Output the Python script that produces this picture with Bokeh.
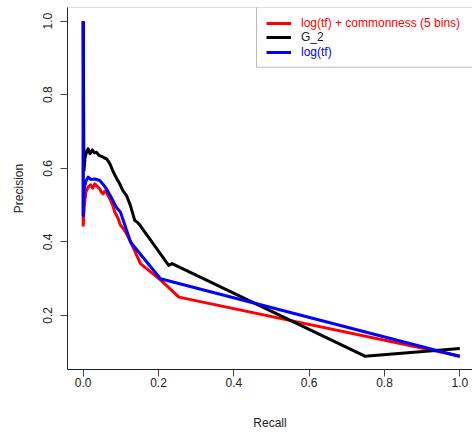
from bokeh.plotting import figure
from bokeh.models import Range1d, Legend, LegendItem, BoxAnnotation, FixedTicker, PrintfTickFormatter
from bokeh.embed import file_html
from bokeh.resources import INLINE

# ---- data ----
red_x = [0.0, 0.0, 0.003, 0.007, 0.013, 0.02, 0.025, 0.031, 0.038, 0.044, 0.048, 0.053, 0.058,
         0.062, 0.067, 0.071, 0.078, 0.084, 0.093, 0.099, 0.107, 0.115, 0.126, 0.152, 0.205, 0.254, 1.0]
red_y = [1.0, 0.445, 0.50, 0.535, 0.549, 0.555, 0.546, 0.558, 0.55, 0.544, 0.535, 0.531, 0.539,
         0.535, 0.524, 0.517, 0.50, 0.481, 0.463, 0.445, 0.436, 0.422, 0.40, 0.341, 0.297, 0.250, 0.09]

black_x = [0.0, 0.002, 0.005, 0.009, 0.013, 0.018, 0.024, 0.03, 0.035, 0.042, 0.05, 0.056, 0.062,
           0.071, 0.08, 0.09, 0.097, 0.105, 0.115, 0.125, 0.137, 0.143, 0.148, 0.227, 0.236, 0.748, 1.0]
black_y = [1.0, 0.594, 0.63, 0.645, 0.653, 0.64, 0.65, 0.642, 0.644, 0.635, 0.632, 0.628, 0.626,
           0.612, 0.59, 0.57, 0.558, 0.54, 0.526, 0.50, 0.458, 0.454, 0.449, 0.336, 0.341, 0.0895, 0.110]

blue_x = [0.0, 0.0, 0.003, 0.007, 0.013, 0.02, 0.031, 0.044, 0.053, 0.062, 0.075, 0.088, 0.099,
          0.126, 0.205, 1.0]
blue_y = [1.0, 0.472, 0.545, 0.565, 0.576, 0.57, 0.571, 0.567, 0.556, 0.544, 0.52, 0.494, 0.481,
          0.399, 0.300, 0.0886]

series_labels = ["log(tf) + commonness (5 bins)", "G_2", "log(tf)"]
series_colors = ["#FF0000", "#000000", "#0000FF"]
x_ticks = [0.0, 0.2, 0.4, 0.6, 0.8, 1.0]
y_ticks = [0.2, 0.4, 0.6, 0.8, 1.0]

FONT = "Liberation Sans"
TXT = "#222222"

p = figure(width=472, height=432, output_backend="svg", toolbar_location=None,
           x_range=Range1d(-0.0417, 1.0337), y_range=Range1d(0.0532, 1.0372),
           min_border_left=67, min_border_right=0, min_border_top=7, min_border_bottom=63)
p.grid.visible = False
p.outline_line_color = None
p.background_fill_color = "white"
p.border_fill_color = "white"

# plot box (right side falls outside the window, as in the original)
frame_box = BoxAnnotation(left=0, right=600, bottom=0, top=362,
                          left_units="screen", right_units="screen",
                          bottom_units="screen", top_units="screen",
                          fill_alpha=0, line_color="#222222", line_width=1)
p.add_layout(frame_box)

r_red = p.line(red_x, red_y, line_color=series_colors[0], line_width=3, line_join="round")
r_black = p.line(black_x, black_y, line_color=series_colors[1], line_width=3, line_join="round")
r_blue = p.line(blue_x, blue_y, line_color=series_colors[2], line_width=3, line_join="round")

for ax in (p.xaxis[0], p.yaxis[0]):
    ax.axis_line_color = "#222222"
    ax.major_tick_line_color = "#444444"
    ax.major_tick_out = 7
    ax.major_tick_in = 0
    ax.minor_tick_line_color = None
    ax.major_label_text_font = FONT
    ax.major_label_text_font_size = "12px"
    ax.major_label_text_color = TXT
    ax.axis_label_text_font = FONT
    ax.axis_label_text_font_size = "12px"
    ax.axis_label_text_font_style = "normal"
    ax.axis_label_text_color = TXT
    ax.formatter = PrintfTickFormatter(format="%.1f")

p.xaxis[0].ticker = FixedTicker(ticks=x_ticks)
p.yaxis[0].ticker = FixedTicker(ticks=y_ticks)
p.xaxis[0].axis_label = "Recall"
p.yaxis[0].axis_label = "Precision"
p.xaxis[0].major_label_standoff = 1
p.xaxis[0].axis_label_standoff = 26
p.yaxis[0].major_label_orientation = "vertical"
p.yaxis[0].major_label_standoff = 8
p.yaxis[0].axis_label_standoff = 15

# legend frame
box = BoxAnnotation(left=189, right=600, bottom=302.3, top=600,
                    left_units="screen", right_units="screen",
                    bottom_units="screen", top_units="screen",
                    fill_alpha=0, line_color="#222222", line_width=1)
p.add_layout(box)

renderers = [r_red, r_black, r_blue]
centers = [346.3, 332.3, 317.3]
for lab, col, rr, cy in zip(series_labels, series_colors, renderers, centers):
    lg = Legend(items=[LegendItem(label=lab, renderers=[rr])],
                location=(199, cy - 7), padding=0, margin=0, spacing=0,
                glyph_width=25, glyph_height=14, label_height=14, label_standoff=10,
                border_line_color=None, background_fill_alpha=0,
                label_text_font=FONT, label_text_font_size="12px",
                label_text_color=col if col != "#000000" else TXT)
    p.add_layout(lg)

open("out.html", "w").write(file_html(p, INLINE))
